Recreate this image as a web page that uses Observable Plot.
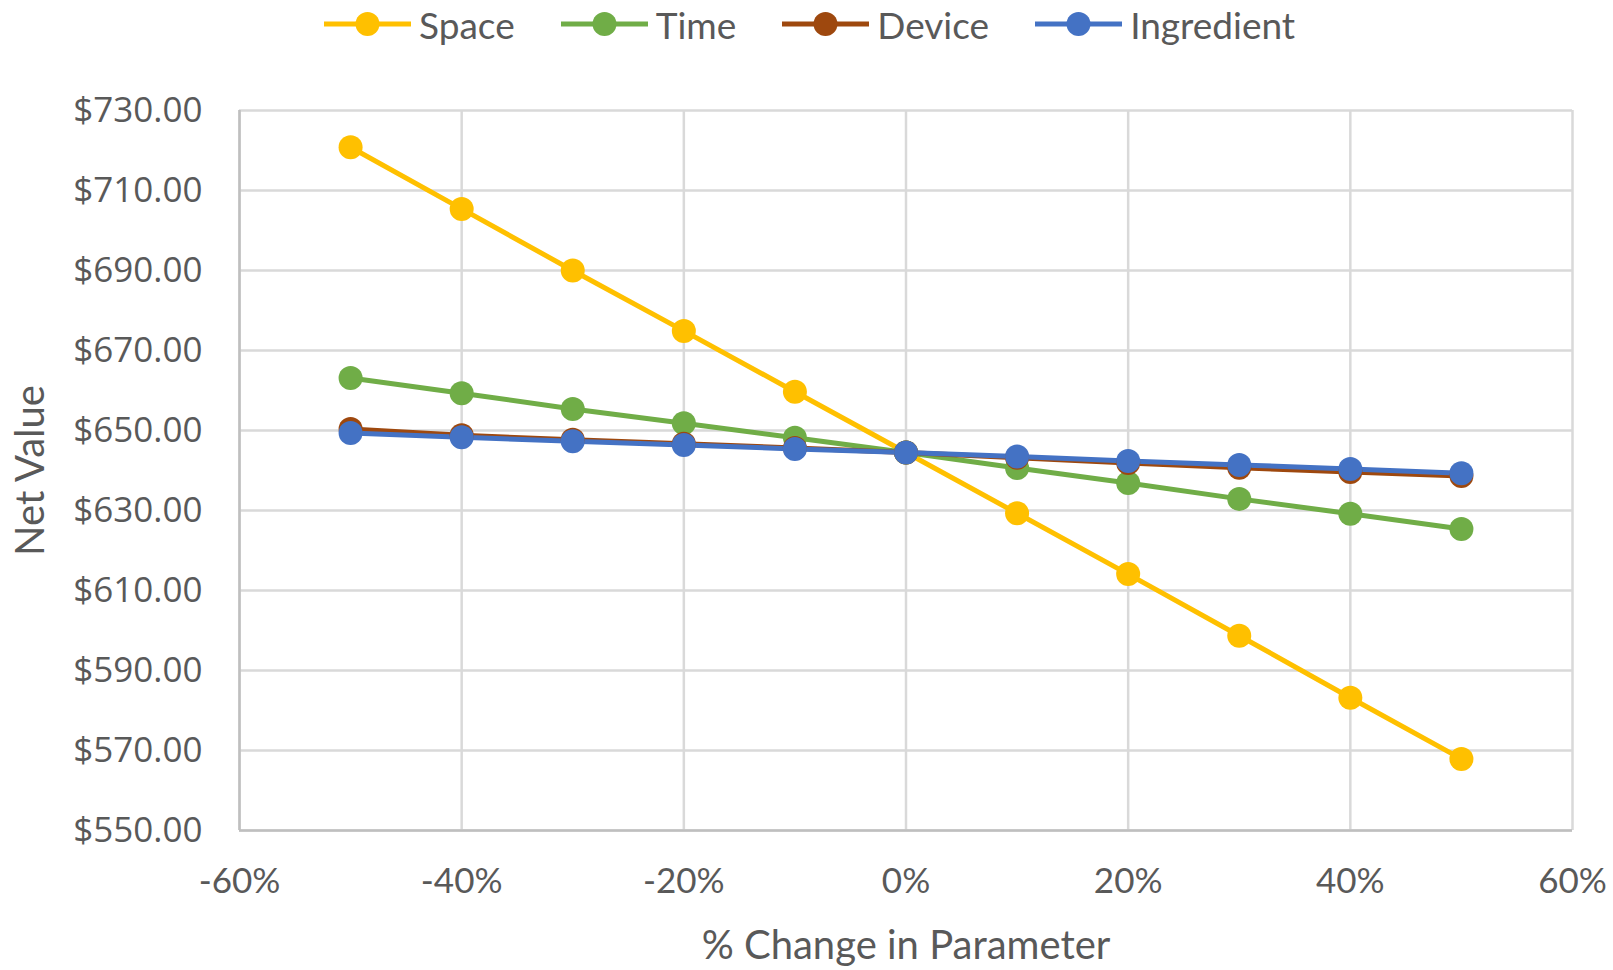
<!DOCTYPE html>
<html>
<head>
<meta charset="utf-8">
<script src="https://cdn.jsdelivr.net/npm/d3@7"></script>
<script src="https://cdn.jsdelivr.net/npm/@observablehq/plot@0.6"></script>
<style>
  html, body { margin: 0; padding: 0; background: #fff; }
  #legend { height: 48px; display: flex; align-items: center; padding-left: 324px; gap: 46px; font-family: Lato, sans-serif; font-size: 37px; color: #595959; }
  .item { display: flex; align-items: center; gap: 8px; }
  #chart svg { display: block; }
</style>
</head>
<body>
<div id="legend"></div>
<div id="chart"></div>
<script>
const pctChange = [-50, -40, -30, -20, -10, 0, 10, 20, 30, 40, 50];
const seriesNames = ["Space", "Time", "Device", "Ingredient"];
const seriesColors = ["#FFC000", "#70AD47", "#9E480E", "#4472C4"];
const space = [720.8, 705.4, 690.0, 674.9, 659.7, 644.5, 629.3, 614.1, 598.7, 583.2, 567.9];
const time = [663.1, 659.3, 655.4, 651.8, 648.2, 644.5, 640.6, 636.9, 632.9, 629.2, 625.4];
const device = [650.4, 648.8, 647.7, 646.7, 645.6, 644.5, 643.2, 641.9, 640.7, 639.6, 638.6];
const ingredient = [649.4, 648.3, 647.3, 646.4, 645.4, 644.5, 643.5, 642.4, 641.4, 640.4, 639.3];
const xTicks = [-60, -40, -20, 0, 20, 40, 60];
const yTicks = [550, 570, 590, 610, 630, 650, 670, 690, 710, 730];

const seriesValues = [space, time, device, ingredient];
const data = [];
seriesNames.forEach((name, i) => {
  seriesValues[i].forEach((v, j) => data.push({series: name, pct: pctChange[j], value: v}));
});

// legend
const legend = document.getElementById("legend");
seriesNames.forEach((name, i) => {
  const item = document.createElement("div");
  item.className = "item";
  item.innerHTML = `<svg width="87" height="26"><line x1="0" x2="87" y1="13" y2="13" stroke="${seriesColors[i]}" stroke-width="5"/><circle cx="43.5" cy="13" r="12" fill="${seriesColors[i]}"/></svg><span>${name}</span>`;
  legend.appendChild(item);
});

const chart = Plot.plot({
  width: 1613,
  height: 922,
  marginTop: 62,
  marginBottom: 140,
  marginLeft: 239,
  marginRight: 41,
  style: {fontFamily: "Lato, sans-serif", color: "#595959", background: "#fff"},
  x: {domain: [-60, 60]},
  y: {domain: [550, 730]},
  color: {domain: seriesNames, range: seriesColors},
  marks: [
    Plot.gridX(xTicks, {stroke: "#d9d9d9", strokeOpacity: 1, strokeWidth: 2.5}),
    Plot.gridY(yTicks, {stroke: "#d9d9d9", strokeOpacity: 1, strokeWidth: 2.5}),
    Plot.ruleX([-60], {stroke: "#bfbfbf", strokeWidth: 2.5}),
    Plot.ruleY([550], {stroke: "#bfbfbf", strokeWidth: 2.5}),
    Plot.axisX(xTicks, {tickSize: 0, tickPadding: 38, fontSize: 35, fill: "#595959",
      tickFormat: d => d + "%", label: null}),
    Plot.axisY(yTicks, {tickSize: 0, tickPadding: 37, fontSize: 35, fontFamily: "Open Sans, sans-serif", fill: "#595959",
      tickFormat: d => "$" + d.toFixed(2), label: null}),
    Plot.text(["% Change in Parameter"], {frameAnchor: "bottom", lineAnchor: "middle", dy: 116, fontSize: 40, fill: "#595959"}),
    Plot.text(["Net Value"], {frameAnchor: "left", textAnchor: "middle", rotate: -90, dx: -208, fontSize: 40, fill: "#595959"}),
    Plot.line(data, {x: "pct", y: "value", z: "series", stroke: "series", strokeWidth: 5}),
    Plot.dot(data, {x: "pct", y: "value", fill: "series", r: 12})
  ]
});
document.getElementById("chart").appendChild(chart);
</script>
</body>
</html>
